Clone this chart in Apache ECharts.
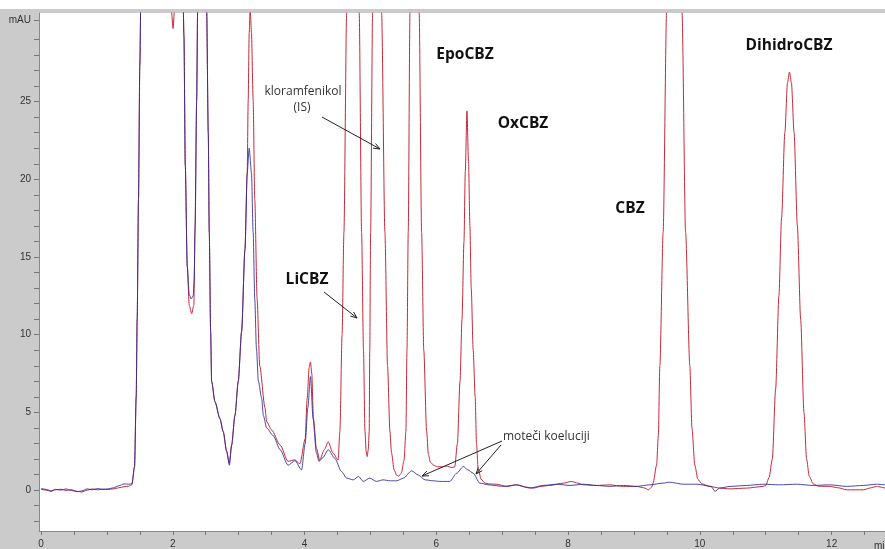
<!DOCTYPE html>
<html>
<head>
<meta charset="utf-8">
<script src="https://cdn.jsdelivr.net/npm/echarts@6/dist/echarts.min.js"></script>
<style>
  html, body { margin: 0; padding: 0; background: #fff; }
  #chart { width: 885px; height: 549px; }
</style>
</head>
<body>
<div id="chart"></div>
<script>
// Retention time (min) and absorbance (mAU) pairs for the spiked sample (red)
const sampleTrace = [
  [0.00,0.05],[0.08,0.00],[0.15,-0.08],[0.22,0.02],[0.30,0.06],[0.38,-0.02],[0.46,0.03],[0.55,-0.08],
  [0.62,-0.12],[0.70,0.00],[0.78,0.08],[0.86,0.02],[0.94,0.06],[1.02,0.04],[1.10,0.08],[1.18,0.15],
  [1.26,0.22],[1.33,0.25],[1.38,0.35],[1.42,1.5],[1.445,6],[1.46,11],[1.48,18.7],[1.50,27.3],[1.52,33],
  [1.55,40],[1.70,45],[1.90,42],[1.96,33],[1.98,30.8],[2.005,29.7],[2.025,30.8],[2.04,34],[2.08,40],
  [2.13,38],[2.155,32],[2.17,29.2],[2.19,20.9],[2.22,14.4],[2.25,11.9],[2.287,11.35],[2.32,11.9],
  [2.337,16.6],[2.363,25.1],[2.378,31],[2.42,42],[2.48,38],[2.514,31],[2.539,23],[2.554,16.6],
  [2.575,10.2],[2.59,7.0],[2.64,5.7],[2.716,4.6],[2.766,3.76],[2.818,2.5],[2.857,1.73],[2.894,2.9],
  [2.944,4.8],[2.994,7.0],[3.045,10.2],[3.096,15.5],[3.13,20.4],[3.145,25.1],[3.16,29.4],[3.175,31.0],
  [3.195,29.4],[3.22,25.1],[3.245,18.7],[3.28,12.3],[3.32,8.0],[3.40,5.3],[3.425,4.4],[3.50,3.87],
  [3.63,2.9],[3.75,1.85],[3.85,1.95],[3.93,1.7],[4.01,3.3],[4.04,5.9],[4.07,7.9],[4.09,8.25],
  [4.11,7.5],[4.135,4.6],[4.18,2.7],[4.23,1.94],[4.30,2.6],[4.36,3.1],[4.43,2.4],[4.51,1.94],
  [4.537,3.8],[4.57,10],[4.598,16.6],[4.639,30.7],[4.674,45],[4.735,59],[4.795,45],[4.83,30.7],
  [4.866,16.6],[4.895,9],[4.917,3.8],[4.935,2.5],[4.951,2.16],[4.967,2.6],[4.982,3.8],[4.99,9],
  [5.003,16.6],[5.033,30.7],[5.06,40],[5.099,46],[5.14,40],[5.17,30.7],[5.22,16.6],[5.26,8],
  [5.296,3.8],[5.32,2.4],[5.36,1.3],[5.40,0.95],[5.43,0.9],[5.47,1.1],[5.51,1.9],[5.539,3.8],
  [5.555,9],[5.574,16.6],[5.60,30.7],[5.63,44],[5.671,54],[5.71,44],[5.74,30.7],[5.777,16.6],
  [5.81,9],[5.853,3.8],[5.88,2.3],[5.91,1.8],[5.96,1.6],[6.02,1.5],[6.09,1.5],[6.156,1.55],
  [6.237,1.45],[6.28,1.5],[6.32,3],[6.36,7],[6.39,11],[6.42,16],[6.44,20.5],[6.465,24.4],[6.49,21],
  [6.51,17],[6.53,13],[6.56,9],[6.59,6],[6.61,3],[6.635,1.4],[6.68,0.7],[6.74,0.45],[6.80,0.4],
  [6.91,0.38],[7.07,0.24],[7.22,0.34],[7.35,0.2],[7.47,0.13],[7.60,0.25],[7.72,0.3],[7.93,0.45],
  [8.05,0.56],[8.15,0.45],[8.23,0.34],[8.43,0.3],[8.63,0.34],[8.84,0.24],[9.04,0.24],[9.15,0.15],
  [9.22,0.02],[9.27,0.2],[9.29,0.45],[9.343,1.6],[9.37,3.5],[9.393,8],[9.443,16.6],[9.495,30.7],
  [9.545,46],[9.614,56],[9.68,46],[9.73,30.7],[9.783,16.6],[9.848,8],[9.88,4],[9.924,1.6],
  [9.97,0.7],[10.03,0.4],[10.15,0.24],[10.30,0.13],[10.46,0.08],[10.71,0.13],[10.96,0.24],
  [11.00,0.3],[11.05,0.8],[11.10,2.0],[11.15,6.5],[11.20,12.5],[11.24,17.5],[11.29,23],[11.33,26.2],
  [11.36,26.9],[11.39,26.2],[11.43,23],[11.48,17],[11.53,11],[11.58,5],[11.62,2],[11.66,0.9],
  [11.72,0.4],[11.80,0.25],[11.97,0.24],[12.10,0.15],[12.23,0.02],[12.48,0.02],[12.60,0.15],
  [12.68,0.24],[12.81,0.13]
];

// Retention time (min) and absorbance (mAU) pairs for the blank plasma (blue)
const blankTrace = [
  [0.00,0.10],[0.08,0.05],[0.15,-0.05],[0.22,0.05],[0.30,0.00],[0.38,0.08],[0.46,-0.02],[0.55,-0.10],
  [0.62,-0.05],[0.70,0.08],[0.78,0.02],[0.86,0.10],[0.94,0.05],[1.02,0.08],[1.10,0.15],[1.18,0.28],
  [1.26,0.40],[1.33,0.38],[1.38,0.40],[1.42,1.5],[1.445,6],[1.46,11],[1.48,18.7],[1.50,27.3],[1.52,33],
  [1.55,40],[1.70,45],[1.90,44],[2.05,42],[2.13,38],[2.155,32],[2.17,29.2],[2.19,20.9],[2.22,14.4],
  [2.25,12.6],[2.28,12.3],[2.31,12.5],[2.325,13.5],[2.34,17],[2.363,25.1],[2.378,31],[2.42,42],
  [2.48,38],[2.514,31],[2.539,23],[2.554,16.6],[2.575,10.2],[2.59,7.0],[2.64,5.7],[2.716,4.6],
  [2.766,3.76],[2.818,2.5],[2.86,1.6],[2.894,2.9],[2.944,4.8],[2.994,7.0],[3.045,10.2],[3.096,15.5],
  [3.13,20.4],[3.16,22.0],[3.195,20.4],[3.22,16.6],[3.245,12.3],[3.27,9.1],[3.30,7.0],[3.35,5.9],
  [3.375,4.8],[3.425,4.0],[3.525,3.5],[3.63,2.6],[3.75,1.6],[3.855,1.9],[3.955,1.3],[4.01,3.0],
  [4.05,5.3],[4.09,7.3],[4.13,4.6],[4.18,2.4],[4.22,1.85],[4.28,2.1],[4.36,2.6],[4.46,2.05],
  [4.56,1.2],[4.64,0.77],[4.74,0.66],[4.82,0.88],[4.89,0.56],[4.99,0.77],[5.09,0.56],[5.19,0.66],
  [5.30,0.60],[5.40,0.60],[5.50,0.77],[5.625,1.24],[5.725,0.98],[5.83,0.66],[5.955,0.60],[6.055,0.56],
  [6.205,0.56],[6.31,1.09],[6.41,1.52],[6.48,1.3],[6.56,1.09],[6.66,0.45],[6.79,0.34],[7.02,0.24],
  [7.22,0.34],[7.42,0.13],[7.62,0.30],[7.83,0.38],[8.03,0.30],[8.23,0.38],[8.43,0.30],[8.63,0.24],
  [8.84,0.30],[9.04,0.24],[9.24,0.34],[9.44,0.45],[9.54,0.51],[9.75,0.38],[9.96,0.38],[10.17,0.24],
  [10.23,-0.08],[10.30,0.13],[10.46,0.24],[10.71,0.30],[10.96,0.38],[11.21,0.34],[11.47,0.38],
  [11.72,0.30],[11.97,0.34],[12.23,0.24],[12.48,0.30],[12.68,0.38],[12.81,0.34]
];

// Axis ticks and labels
const timeTicks = [0,0.5,1,1.5,2,2.5,3,3.5,4,4.5,5,5.5,6,6.5,7,7.5,8,8.5,9,9.5,10,10.5,11,11.5,12,12.5];
const timeLabels = [0,2,4,6,8,10,12];
const mauTicks = [-2,-1,0,1,2,3,4,5,6,7,8,9,10,11,12,13,14,15,16,17,18,19,20,21,22,23,24,25,26,27,28,29,30.25];
const mauLabels = [0,5,10,15,20,25,30.25];
const mauUnitTick = 30.25;

// Peak names and annotation texts
const peakNames = ['LiCBZ','EpoCBZ','OxCBZ','CBZ','DihidroCBZ'];
const noteIS = ['kloramfenikol','(IS)'];
const noteCoelution = 'moteči koeluciji';

const chart = echarts.init(document.getElementById('chart'), null, { renderer: 'canvas' });

const boldFont = { fontFamily: 'Open Sans', fontWeight: 'bold', fontSize: 15.5, fill: '#111' };
const noteFont = { fontFamily: 'Open Sans', fontSize: 12, fill: '#333' };

function text(str, x, y, font, align) {
  return { type: 'text', x: x, y: y, z: 100,
    style: Object.assign({ text: str, textAlign: align || 'center', textVerticalAlign: 'middle' }, font) };
}
function arrow(x1, y1, x2, y2) {
  const a = Math.atan2(y2 - y1, x2 - x1), len = 7, sp = 0.38;
  return [
    { type: 'line', z: 100, shape: { x1, y1, x2, y2 }, style: { stroke: '#222', lineWidth: 1 } },
    { type: 'polyline', z: 100, shape: { points: [
        [x2 - len * Math.cos(a - sp), y2 - len * Math.sin(a - sp)], [x2, y2],
        [x2 - len * Math.cos(a + sp), y2 - len * Math.sin(a + sp)]] },
      style: { stroke: '#222', lineWidth: 1, fill: null } }
  ];
}

const graphics = [
  { type: 'rect', z: 0, shape: { x: 0, y: 0, width: 885, height: 9 }, style: { fill: '#fff' } },
  text('min', 874, 546, { fontFamily: 'Liberation Sans', fontSize: 10, fill: '#333' }, 'left'),
  text(noteIS[0], 303, 92, noteFont),
  text(noteIS[1], 302, 108, noteFont),
  ...arrow(322, 117, 380, 149),
  text(peakNames[0], 307, 280, boldFont),
  ...arrow(324, 292, 357, 318),
  text(peakNames[1], 465, 55, boldFont),
  text(peakNames[2], 523, 124, boldFont),
  text(peakNames[3], 630, 209, boldFont),
  text(peakNames[4], 789, 46, boldFont),
  text(noteCoelution, 503, 437, noteFont, 'left'),
  ...arrow(502, 441, 422, 476),
  ...arrow(501, 445, 476, 474)
];

chart.setOption({
  animation: false,
  backgroundColor: '#cbcbcb',
  grid: { left: 39, top: 13, right: 0, bottom: 16, show: true, backgroundColor: '#fff', borderWidth: 0 },
  xAxis: {
    type: 'value', min: -0.03, max: 12.81,
    axisLine: { show: true, onZero: false, lineStyle: { color: '#8a8a8a', width: 1 } },
    axisTick: { show: true, customValues: timeTicks, length: 4, lineStyle: { color: '#777' } },
    axisLabel: { customValues: timeLabels, fontFamily: 'Liberation Sans', fontSize: 10, color: '#333', margin: 8 },
    splitLine: { show: false }
  },
  yAxis: {
    type: 'value', min: -2.63, max: 30.7,
    axisLine: { show: true, onZero: false, lineStyle: { color: '#8a8a8a', width: 1 } },
    axisTick: { show: true, customValues: mauTicks, length: 5, lineStyle: { color: '#777' } },
    axisLabel: { customValues: mauLabels, fontFamily: 'Liberation Sans', fontSize: 10, color: '#333', margin: 8,
      formatter: v => (v === mauUnitTick ? 'mAU' : String(v)) },
    splitLine: { show: false }
  },
  series: [
    { type: 'line', data: sampleTrace, showSymbol: false, clip: true, smooth: 0.25, smoothMonotone: 'x',
      lineStyle: { color: '#c42a3a', width: 1 }, itemStyle: { color: '#c42a3a' }, z: 2 },
    { type: 'line', data: blankTrace, showSymbol: false, clip: true, smooth: 0.25, smoothMonotone: 'x',
      lineStyle: { color: '#2a2a9a', width: 1, opacity: 0.85 }, itemStyle: { color: '#2a2a9a' }, z: 3 }
  ],
  graphic: graphics
});
</script>
</body>
</html>
